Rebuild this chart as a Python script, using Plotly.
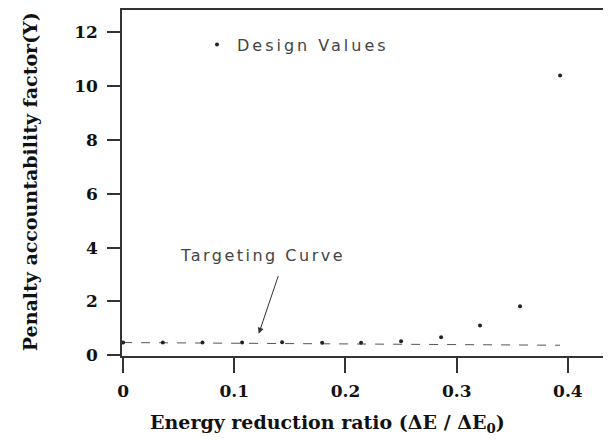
import plotly.graph_objects as go

# Design values (energy reduction ratio vs penalty accountability factor)
design_x = [0.0, 0.0357, 0.0714, 0.107, 0.143, 0.179, 0.214, 0.25, 0.286, 0.321, 0.357, 0.393]
design_y = [0.47, 0.47, 0.47, 0.47, 0.48, 0.46, 0.46, 0.52, 0.67, 1.1, 1.82, 10.4]

# Targeting curve
target_x = [0.0, 0.1, 0.2, 0.3, 0.393]
target_y = [0.47, 0.45, 0.43, 0.39, 0.37]

x_ticks = [0, 0.1, 0.2, 0.3, 0.4]
x_tick_labels = ["0", "0.1", "0.2", "0.3", "0.4"]
y_ticks = [0, 2, 4, 6, 8, 10, 12]
y_tick_labels = ["0", "2", "4", "6", "8", "10", "12"]

serif = "DejaVu Serif, serif"
sans = "DejaVu Sans, sans-serif"

fig = go.Figure()
fig.add_trace(go.Scatter(
    x=target_x, y=target_y, mode="lines",
    line=dict(color="#555", width=1, dash="dash"),
    showlegend=False, hoverinfo="skip"))
fig.add_trace(go.Scatter(
    x=design_x, y=design_y, mode="markers",
    name='<span style="letter-spacing:3px">Design Values</span>',
    marker=dict(color="#222", size=4, symbol="circle")))

fig.add_annotation(
    x=0.122, y=0.8, xref="x", yref="y",
    ax=0.140, ay=3.0, axref="x", ayref="y",
    text="", showarrow=True, arrowhead=2, arrowsize=1.2, arrowwidth=1,
    arrowcolor="#333")
fig.add_annotation(
    x=0.049, y=3.7, xref="x", yref="y", xanchor="left",
    text='<span style="letter-spacing:2.5px">Targeting Curve</span>',
    showarrow=False, font=dict(family=sans, size=16, color="#444"))
fig.add_annotation(
    x=0.421, y=-0.195, xref="paper", yref="paper", yanchor="middle",
    text="Energy reduction ratio (ΔE / ΔE<sub>0</sub>)",
    showarrow=False, font=dict(family=serif, size=19, color="#111", weight="bold"))
fig.add_annotation(
    x=-0.189, y=0.505, xref="paper", yref="paper", xanchor="center", yanchor="middle",
    text="Penalty accountability factor(Y)", textangle=-90,
    showarrow=False, font=dict(family=serif, size=19, color="#111", weight="bold"))

axis_common = dict(
    showline=True, linecolor="#333", linewidth=1.5, mirror=True, automargin=False,
    showgrid=False, zeroline=False, ticks="outside", tickcolor="#333",
    tickwidth=1.5, tickfont=dict(family=serif, size=17, color="#111", weight="bold"))

fig.update_xaxes(
    range=[-0.001, 0.437], tickvals=x_ticks, ticktext=x_tick_labels, ticklen=15,
    ticklabelstandoff=4,
    **axis_common)
fig.update_yaxes(
    range=[-0.03, 12.83], tickvals=y_ticks, ticktext=y_tick_labels, ticklen=13,
    ticklabelstandoff=6,
    **axis_common)

fig.update_layout(
    width=603, height=432,
    margin=dict(l=114, r=2, t=2, b=84, autoexpand=False),
    paper_bgcolor="white", plot_bgcolor="white",
    showlegend=True,
    legend=dict(x=0.154, y=0.90, xanchor="left", yanchor="middle",
                bgcolor="rgba(0,0,0,0)", font=dict(family=sans, size=16, color="#444")),
)

fig.write_html("out.html")
